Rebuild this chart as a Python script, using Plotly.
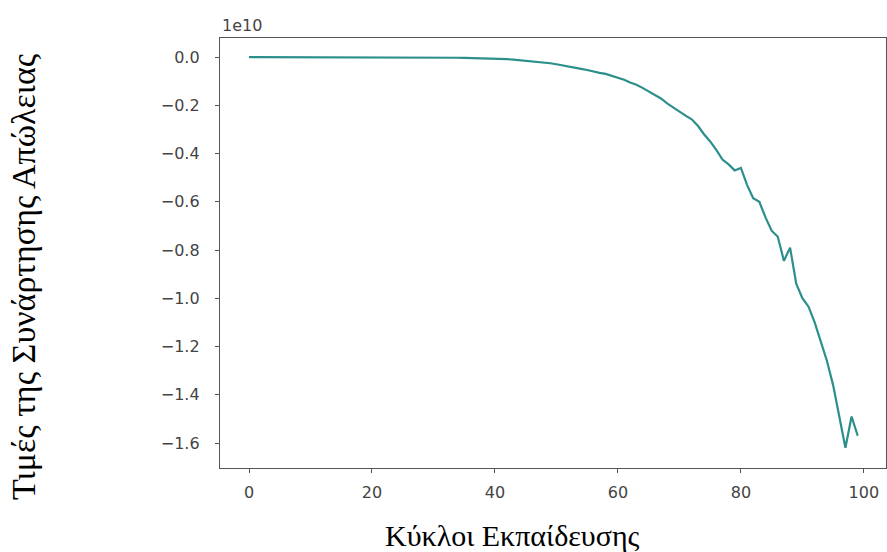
import plotly.graph_objects as go

epochs = list(range(100))
# loss values in units of 1e10
loss_e10 = [
    -0.0002, -0.0002, -0.0003, -0.0003, -0.0003, -0.0004, -0.0004, -0.0004, -0.0005, -0.0005,
    -0.0006, -0.0006, -0.0007, -0.0007, -0.0008, -0.0008, -0.0009, -0.0009, -0.0010, -0.0011,
    -0.0011, -0.0012, -0.0013, -0.0013, -0.0014, -0.0015, -0.0016, -0.0017, -0.0018, -0.0019,
    -0.0020, -0.0022, -0.0025, -0.0028, -0.0031, -0.0034, -0.0038, -0.0042, -0.0046, -0.0050,
    -0.0055, -0.0070, -0.0090, -0.0110, -0.0130, -0.0150, -0.0180, -0.0200, -0.0230, -0.0260,
    -0.030, -0.034, -0.038, -0.044, -0.049, -0.054, -0.061, -0.066, -0.070, -0.078,
    -0.084, -0.094, -0.106, -0.115, -0.128, -0.142, -0.158, -0.172, -0.192, -0.210,
    -0.228, -0.243, -0.258, -0.285, -0.320, -0.350, -0.385, -0.425, -0.445, -0.470,
    -0.460, -0.530, -0.585, -0.600, -0.665, -0.720, -0.745, -0.845, -0.790, -0.940,
    -1.000, -1.035, -1.100, -1.180, -1.260, -1.360, -1.490, -1.620, -1.490, -1.570,
]
scale = 1e10
loss = [v * scale for v in loss_e10]

x_ticks = [0, 20, 40, 60, 80, 100]
y_ticks_e10 = [0.0, -0.2, -0.4, -0.6, -0.8, -1.0, -1.2, -1.4, -1.6]
y_tick_text = [("\u2212" if t < 0 else "") + f"{abs(t):.1f}" for t in y_ticks_e10]

x_title = "Κύκλοι Εκπαίδευσης"
y_title = "Τιμές της Συνάρτησης Απώλειας"

fig = go.Figure()
fig.add_trace(go.Scatter(
    x=epochs, y=loss, mode="lines",
    line=dict(color="#2b8f8b", width=2.2),
    showlegend=False, hoverinfo="skip",
))

tick_font = dict(family="DejaVu Sans", size=16, color="#444444")
axis_common = dict(
    showgrid=False, zeroline=False, showline=True, linecolor="#555555", linewidth=1.4,
    mirror=True, ticks="outside", ticklen=4, tickwidth=1, tickcolor="#555555",
    tickfont=tick_font,
)

fig.update_layout(
    width=887, height=552,
    margin=dict(l=220, r=1, t=38, b=84),
    paper_bgcolor="white", plot_bgcolor="white",
    xaxis=dict(range=[-4.72, 103.6], tickvals=x_ticks, ticklabelstandoff=6, **axis_common),
    yaxis=dict(range=[-1.7036 * scale, 0.0788 * scale],
               tickvals=[t * scale for t in y_ticks_e10], ticktext=y_tick_text,
               ticklabelstandoff=12, **axis_common),
)

fig.add_annotation(text="1e10", xref="paper", yref="paper", x=0, y=1,
                   xanchor="left", yanchor="bottom", showarrow=False,
                   font=tick_font, yshift=1)
fig.add_annotation(text=x_title, xref="paper", yref="paper", x=(512 - 220) / 666, y=0,
                   yshift=-67, xanchor="center", yanchor="middle", showarrow=False,
                   font=dict(family="Liberation Serif", size=30, color="black"))
fig.add_annotation(text=y_title, xref="paper", yref="paper", x=0, y=(468 - 277) / 430,
                   xshift=-197, xanchor="center", yanchor="middle", showarrow=False,
                   textangle=-90,
                   font=dict(family="Liberation Serif", size=34, color="black"))

fig.write_html("out.html")
